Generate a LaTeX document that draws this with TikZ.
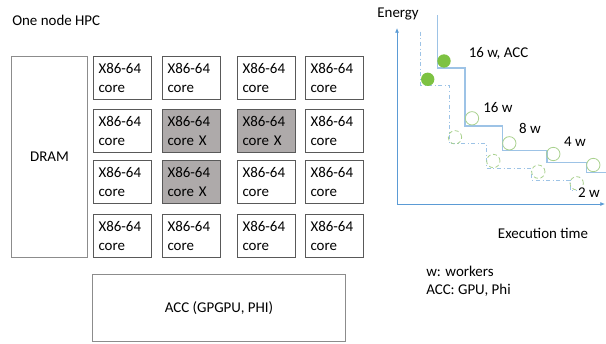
\documentclass[tikz,border=0pt]{standalone}
\usepackage{fontspec}
\setmainfont{Carlito}
\usetikzlibrary{arrows.meta}
\definecolor{boxline}{HTML}{595959}
\definecolor{memline}{HTML}{8C8C8C}
\definecolor{corex}{HTML}{AEAAAA}
\definecolor{stepblue}{HTML}{9DC3E6}
\definecolor{axisblue}{HTML}{5B9BD5}
\definecolor{wgreen}{HTML}{7DC242}
\definecolor{wlight}{HTML}{A9D18E}
\tikzset{
  txt/.style = {font=\fontsize{11.2}{14.25}\selectfont},
  corebox/.style = {txt, draw=boxline, line width=0.75pt, minimum width=43.5pt, minimum height=32.6pt,
    text width=36pt, align=left, inner sep=3.75pt, anchor=north west},
  membox/.style = {txt, draw=memline, line width=0.75pt, anchor=north west},
  label/.style = {txt, inner sep=0pt},
  axis/.style = {draw=axisblue, line width=0.6pt, -{Latex[length=3.5pt,width=3pt]}},
  stepline/.style = {draw=stepblue, line width=0.8pt},
  stepdash/.style = {draw=stepblue, line width=0.6pt, dash dot},
  wfull/.style = {circle, fill=wgreen, minimum size=10pt, inner sep=0pt},
  wopen/.style = {circle, draw=wlight, line width=0.6pt, minimum size=10pt, inner sep=0pt},
  wdash/.style = {wopen, densely dashed}
}
\begin{document}
\begin{tikzpicture}[x=0.75pt, y=-0.75pt]
\useasboundingbox[fill=white] (0,0) rectangle (606,343);
\node[label, anchor=west] (title) at (12,20) {One node HPC};
% memory and accelerator
\node[membox, minimum width=57pt, minimum height=150.75pt] (dram) at (11,56) {DRAM};
\node[membox, minimum width=189.75pt, minimum height=50.25pt] (acc) at (92,274) {ACC (GPGPU, PHI)};
% cores, three of them busy
\foreach \x [count=\i] in {93,162,237,305}
  \foreach \y [count=\j] in {56,109,160,214} {
    \def\boxfill{white}\def\corename{core}
    \ifnum\i\j=22 \def\boxfill{corex}\def\corename{core X}\fi
    \ifnum\i\j=32 \def\boxfill{corex}\def\corename{core X}\fi
    \ifnum\i\j=23 \def\boxfill{corex}\def\corename{core X}\fi
    \node[corebox, fill=\boxfill] (c\i\j) at (\x,\y) {X86-64\\\corename};
  }
% energy / time plot
\coordinate (o) at (397,204);
\coordinate (ytop) at (397,28);
\coordinate (xend) at (605,204);
\draw[axis] (o) -- (ytop);
\draw[axis] (o) -- (xend);
\node[label, anchor=east] (energy) at (419,14) {Energy};
\node[label] (time) at (543,233) {Execution time};
\draw[stepline] (437.7,15) |- (465,68) |- (502.7,126) |- (547,150.7) |- (586.7,162.7) |- (606,172.7);
\draw[stepdash] (420.7,31.7) |- (449,85) |- (486.7,143.3) |- (531.7,168.3) |- (570,180) |- (580,190.7);
\node[wfull] (acc1) at (444,61) {};
\node[wfull] (acc2) at (427.7,79.3) {};
\foreach \x/\y [count=\n] in {472/118.3, 509.3/143.3, 553.3/154, 593.3/165}
  \node[wopen] (w\n) at (\x,\y) {};
\foreach \x/\y [count=\n] in {455/137.3, 493.3/161, 538.3/171.7, 576.7/183.3}
  \node[wdash] (d\n) at (\x,\y) {};
\node[label] (l16acc) at (498.5,53) {16 w, ACC};
\node[label] (l16) at (498,108) {16 w};
\node[label] (l8) at (530,128) {8 w};
\node[label] (l4) at (575,142) {4 w};
\node[label, fill=white, inner sep=1pt] (l2) at (589,193) {2 w};
\node[label, anchor=west, align=left, font=\fontsize{11.2}{13.5}\selectfont] (legend) at (426,281) {w: workers\\ACC: GPU, Phi};
\end{tikzpicture}
\end{document}
